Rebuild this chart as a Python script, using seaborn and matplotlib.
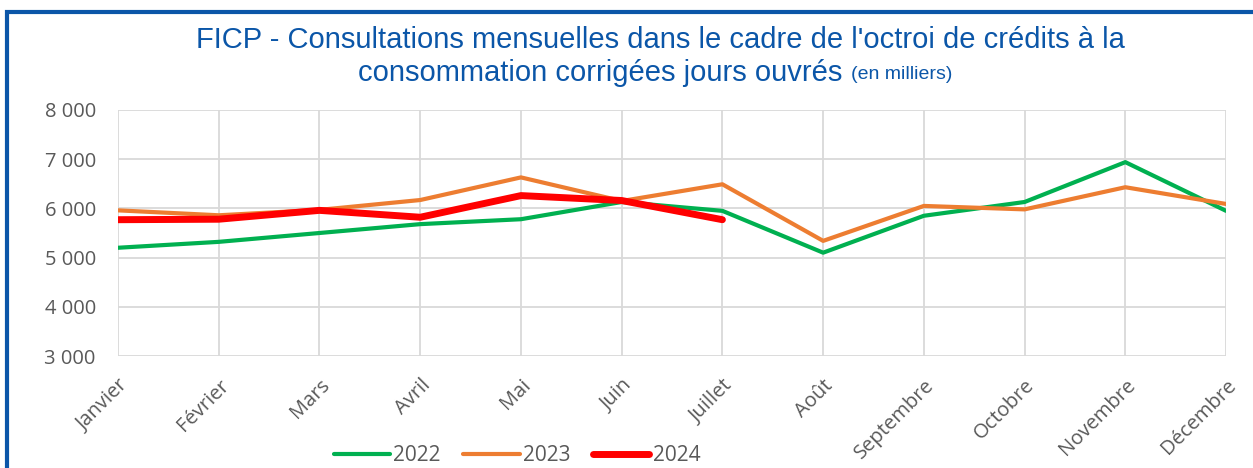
import matplotlib
matplotlib.use('Agg')
import matplotlib.pyplot as plt
import seaborn as sns
import pandas as pd
from matplotlib.patches import Rectangle
from matplotlib.ticker import FuncFormatter

mois = ['Janvier', 'Février', 'Mars', 'Avril', 'Mai', 'Juin', 'Juillet',
        'Août', 'Septembre', 'Octobre', 'Novembre', 'Décembre']
v2022 = [5200, 5320, 5500, 5680, 5780, 6130, 5950, 5100, 5850, 6130, 6940, 5950]
v2023 = [5960, 5860, 5970, 6170, 6630, 6150, 6490, 5340, 6050, 5980, 6430, 6090]
v2024 = [5770, 5780, 5960, 5820, 6260, 6160, 5770]

annees = ['2022', '2023', '2024']
couleurs = {'2022': '#00B050', '2023': '#ED7D31', '2024': '#FF0000'}
epaisseurs = {'2022': 3.0, '2023': 3.0, '2024': 5.0}

rows = []
for annee, vals in zip(annees, [v2022, v2023, v2024]):
    for i, v in enumerate(vals):
        rows.append({'idx': i, 'valeur': v, 'annee': annee})
df = pd.DataFrame(rows)

sns.set_style('white')
plt.rcParams['font.family'] = ['Liberation Sans', 'DejaVu Sans']

fig = plt.figure(figsize=(12.53, 4.68), dpi=100)
ax = fig.add_axes([0.0942, 0.2393, 0.8843, 0.5257])

for annee in annees:
    d = df[df['annee'] == annee]
    sns.lineplot(data=d, x='idx', y='valeur', ax=ax, color=couleurs[annee],
                 linewidth=epaisseurs[annee], label=annee,
                 solid_capstyle='round', solid_joinstyle='round')

police = ['Open Sans', 'DejaVu Sans']
ax.set_xlim(0, 11)
ax.set_ylim(3000, 8000)
ax.set_xticks(range(12))
ax.set_xticklabels(mois, rotation=45, ha='right', rotation_mode='anchor',
                   fontsize=14.5, color='#595959', family=police)
ax.set_yticks(range(3000, 8001, 1000))
ax.yaxis.set_major_formatter(FuncFormatter(lambda v, p: f'{int(v):,}'.replace(',', ' ')))
for t in ax.get_yticklabels():
    t.set_fontsize(14.5)
    t.set_color('#595959')
    t.set_family(police)
ax.set_xlabel('')
ax.set_ylabel('')
ax.grid(True, color='#D9D9D9', linewidth=1.3)
for s in ax.spines.values():
    s.set_visible(False)
ax.tick_params(axis='x', length=7, color='#D9D9D9', width=1.3, pad=7)
ax.tick_params(axis='y', length=0, pad=16)

leg = ax.legend(loc='center', bbox_to_anchor=(0.36, -0.405), ncol=3,
                frameon=False, handlelength=2.7, columnspacing=1.1,
                handletextpad=0.15, prop={'family': police, 'size': 15})
for t in leg.get_texts():
    t.set_color('#595959')

# titre
fig.text(0.527, 0.914, "FICP - Consultations mensuelles dans le cadre de l'octroi de crédits à la",
         ha='center', va='center', fontsize=21, color='#0B56A8')
fig.text(0.672, 0.845, "consommation corrigées jours ouvrés",
         ha='right', va='center', fontsize=21, color='#0B56A8')
fig.text(0.679, 0.840, "(en milliers)", ha='left', va='center', fontsize=14, color='#0B56A8')

# cadre bleu
fig.patches.append(Rectangle((0.0056, -0.05), 1.05, 1.024, transform=fig.transFigure,
                             fill=False, edgecolor='#0B56A8', linewidth=3))

fig.savefig('out.png', dpi=100)
